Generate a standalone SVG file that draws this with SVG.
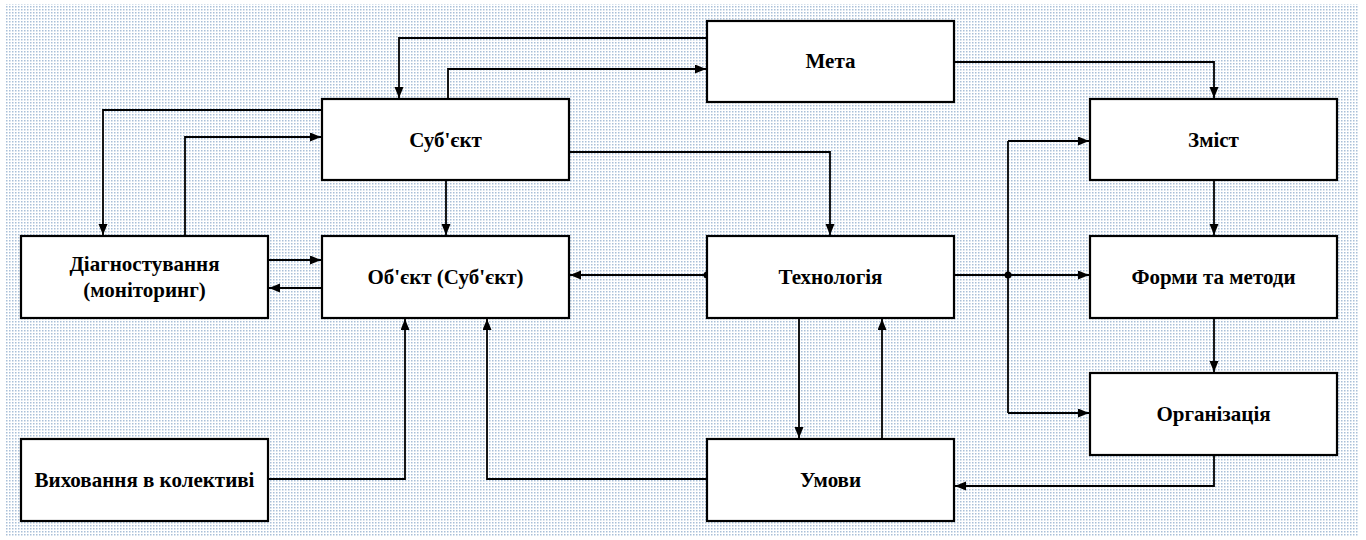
<svg xmlns="http://www.w3.org/2000/svg" width="1366" height="540" viewBox="0 0 1366 540">
<defs>
<pattern id="dots" width="3" height="3" patternUnits="userSpaceOnUse">
<rect width="3" height="3" fill="#ffffff"/>
<rect x="0" y="0" width="1.5" height="1.5" fill="#a9bfd8"/>
</pattern>
<marker id="arr" markerWidth="12" markerHeight="10" refX="11" refY="4.5" orient="auto" markerUnits="userSpaceOnUse">
<path d="M0,0 L11,4.5 L0,9 z" fill="#000"/>
</marker>
</defs>
<style>
.box{fill:#fff;stroke:#000;stroke-width:2.2}
.lbl{font-family:"Liberation Serif","Times New Roman",serif;font-weight:bold;font-size:21px;fill:#000;text-anchor:middle}
.c{fill:none;stroke:#000;stroke-width:1.8;marker-end:url(#arr)}
.cn{fill:none;stroke:#000;stroke-width:1.8}
</style>
<rect x="0" y="0" width="1366" height="540" fill="#fff"/>
<rect x="5" y="4" width="1353" height="532" fill="url(#dots)"/>
<g id="connectors">
<path class="c" d="M707,38 H399 V98"/>
<path class="c" d="M448,99 V69 H706"/>
<path class="c" d="M954,62 H1214 V98"/>
<path class="c" d="M322,110 H103 V235"/>
<path class="c" d="M185,236 V137 H321"/>
<path class="c" d="M446,180 V235"/>
<path class="c" d="M569,152 H830 V235"/>
<path class="c" d="M268,260 H321"/>
<path class="c" d="M322,288 H269"/>
<path class="c" d="M707,275 H570"/>
<circle cx="707" cy="275" r="3.5" fill="#000"/>
<path class="c" d="M954,275 H1089"/>
<path class="cn" d="M1008,141 V413"/>
<path class="c" d="M1008,141 H1089"/>
<path class="c" d="M1008,413 H1089"/>
<circle cx="1008" cy="275" r="3.5" fill="#000"/>
<path class="c" d="M1214,180 V235"/>
<path class="c" d="M1214,318 V372"/>
<path class="c" d="M1214,455 V486 H955"/>
<path class="c" d="M799,318 V438"/>
<path class="c" d="M882,439 V319"/>
<path class="c" d="M707,479 H487 V319"/>
<path class="c" d="M268,479 H405 V319"/>
</g>
<g id="meta"><rect class="box" x="707" y="21" width="247" height="81"/><text class="lbl" x="830.5" y="68">Мета</text></g>
<g id="subject"><rect class="box" x="322" y="99" width="247" height="81"/><text class="lbl" x="445.5" y="147">Суб'єкт</text></g>
<g id="zmist"><rect class="box" x="1090" y="99" width="247" height="81"/><text class="lbl" x="1213.5" y="147">Зміст</text></g>
<g id="diagnost"><rect class="box" x="21" y="236" width="247" height="82"/><text class="lbl" x="144.5" y="271">Діагностування</text><text class="lbl" x="144.5" y="297">(моніторинг)</text></g>
<g id="object"><rect class="box" x="322" y="236" width="247" height="82"/><text class="lbl" x="445.5" y="284">Об'єкт (Суб'єкт)</text></g>
<g id="tech"><rect class="box" x="707" y="236" width="247" height="82"/><text class="lbl" x="830.5" y="284">Технологія</text></g>
<g id="forms"><rect class="box" x="1090" y="236" width="247" height="82"/><text class="lbl" x="1213.5" y="284">Форми та методи</text></g>
<g id="org"><rect class="box" x="1090" y="373" width="247" height="82"/><text class="lbl" x="1213.5" y="421">Організація</text></g>
<g id="vykhovannia"><rect class="box" x="21" y="439" width="247" height="82"/><text class="lbl" x="144.5" y="487">Виховання в колективі</text></g>
<g id="umovy"><rect class="box" x="707" y="439" width="247" height="82"/><text class="lbl" x="830.5" y="487">Умови</text></g>
</svg>
